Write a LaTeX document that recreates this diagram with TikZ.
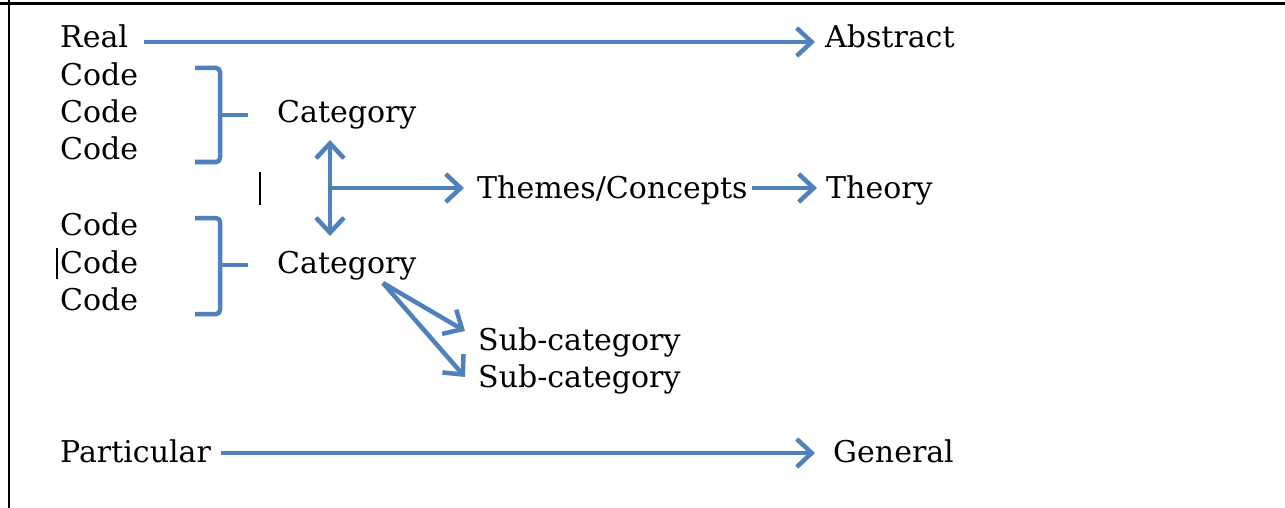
\documentclass[tikz,border=0pt]{standalone}
\usepackage{fontspec}
\setmainfont{DejaVu Serif}
\usetikzlibrary{arrows.meta}
\definecolor{arrowblue}{RGB}{79,129,189}
\begin{document}
\begin{tikzpicture}[x=1pt,y=-1pt,
  lbl/.style={anchor=base west,inner sep=0pt,font=\fontsize{30}{36}\selectfont,text=black},
  bluearrow/.style={draw=arrowblue,line width=4.5pt,-{Straight Barb[length=15pt,width=28pt]}},
  dblarrow/.style={draw=arrowblue,line width=4.5pt,{Straight Barb[length=15pt,width=28pt]}-{Straight Barb[length=15pt,width=28pt]}},
  bracket/.style={draw=arrowblue,line width=4.5pt,rounded corners=4pt},
  cursor/.style={draw=black,line width=2pt}]
\useasboundingbox (0,0) rectangle (1285,508);
\fill[white] (0,0) rectangle (1285,508);
% frame
\draw[line width=3pt] (0,3.5) -- (1285,3.5);
\draw[line width=2pt] (8.5,0) -- (8.5,508);
% labels
\node[lbl] (real) at (60,48) {Real};
\node[lbl] (abstract) at (825,48) {Abstract};
\node[lbl] (c1) at (60,86) {Code};
\node[lbl] (c2) at (60,123) {Code};
\node[lbl] (c3) at (60,160) {Code};
\node[lbl] (cat1) at (277,123) {Category};
\node[lbl] (themes) at (477,198) {Themes/Concepts};
\node[lbl] (theory) at (826,198) {Theory};
\node[lbl] (c4) at (60,235) {Code};
\node[lbl] (c5) at (60,273) {Code};
\node[lbl] (c6) at (60,310) {Code};
\node[lbl] (cat2) at (277,273) {Category};
\node[lbl] (sub1) at (478,350) {Sub-category};
\node[lbl] (sub2) at (478,387) {Sub-category};
\node[lbl] (particular) at (60,462) {Particular};
\node[lbl] (general) at (833,462) {General};
% brackets
\draw[bracket] (195,68) -- (220,68) -- (220,162) -- (195,162);
\draw[bracket] (220,115) -- (248,115);
\draw[bracket] (195,218) -- (220,218) -- (220,314) -- (195,314);
\draw[bracket] (220,265) -- (248,265);
% cursors
\draw[cursor] (260,172) -- (260,205);
\draw[cursor] (57,248) -- (57,279);
% arrow levels
\coordinate (ya) at (0,42);
\coordinate (yp) at (0,453);
\coordinate (vtop) at (330,140);
\coordinate (vbot) at (330,236);
\coordinate (vmid) at (330,188);
\coordinate (fork) at (383,283);
\coordinate (s1end) at (465,331);
\coordinate (s2end) at (465,377);
% arrows
\draw[bluearrow,shorten <=16pt,shorten >=10pt] (real.east |- ya) -- (abstract.west |- ya);
\draw[dblarrow] (vtop) -- (vbot);
\draw[bluearrow,shorten >=13pt] (vmid) -- (themes.west |- vmid);
\draw[bluearrow,shorten <=4pt,shorten >=9pt] (themes.east |- vmid) -- (theory.west |- vmid);
\draw[bluearrow] (fork) -- (s1end);
\draw[bluearrow] (fork) -- (s2end);
\draw[bluearrow,shorten <=10pt,shorten >=18pt] (particular.east |- yp) -- (general.west |- yp);
\end{tikzpicture}
\end{document}
